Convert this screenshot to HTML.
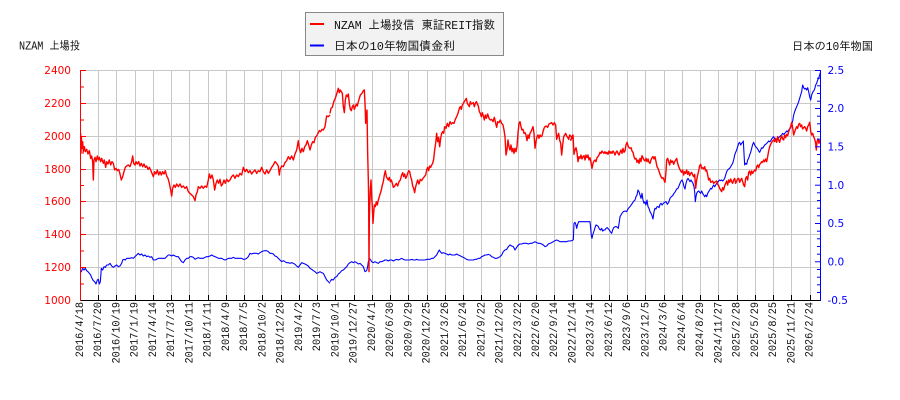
<!DOCTYPE html>
<html><head><meta charset="utf-8"><style>
html,body{margin:0;padding:0;background:#fff;}
svg{display:block;}
.xl{font-family:"Liberation Mono","IPAGothic",monospace;font-size:11px;fill:#111;}
.jp{font-family:"Liberation Mono","IPAGothic","Noto Sans CJK JP",monospace;font-size:12px;fill:#111;}
.yl{font-family:"DejaVu Sans","Liberation Sans",sans-serif;font-size:10.5px;}
</style></head><body>
<svg width="900" height="400" viewBox="0 0 900 400" xmlns="http://www.w3.org/2000/svg">
<defs><clipPath id="pc"><rect x="81" y="68" width="740" height="232"/></clipPath></defs>
<rect width="900" height="400" fill="#fff"/>
<g stroke="#c8c8c8" stroke-width="1">
<line x1="81" x2="820" y1="70.5" y2="70.5"/><line x1="81" x2="820" y1="103.5" y2="103.5"/><line x1="81" x2="820" y1="136.5" y2="136.5"/><line x1="81" x2="820" y1="169.5" y2="169.5"/><line x1="81" x2="820" y1="201.5" y2="201.5"/><line x1="81" x2="820" y1="234.5" y2="234.5"/><line x1="81" x2="820" y1="267.5" y2="267.5"/>
</g>
<g stroke="#c8c8c8" stroke-width="1">
<line x1="98.5" x2="98.5" y1="70" y2="300"/><line x1="116.5" x2="116.5" y1="70" y2="300"/><line x1="135.5" x2="135.5" y1="70" y2="300"/><line x1="153.5" x2="153.5" y1="70" y2="300"/><line x1="171.5" x2="171.5" y1="70" y2="300"/><line x1="189.5" x2="189.5" y1="70" y2="300"/><line x1="208.5" x2="208.5" y1="70" y2="300"/><line x1="226.5" x2="226.5" y1="70" y2="300"/><line x1="244.5" x2="244.5" y1="70" y2="300"/><line x1="262.5" x2="262.5" y1="70" y2="300"/><line x1="281.5" x2="281.5" y1="70" y2="300"/><line x1="299.5" x2="299.5" y1="70" y2="300"/><line x1="317.5" x2="317.5" y1="70" y2="300"/><line x1="335.5" x2="335.5" y1="70" y2="300"/><line x1="354.5" x2="354.5" y1="70" y2="300"/><line x1="372.5" x2="372.5" y1="70" y2="300"/><line x1="390.5" x2="390.5" y1="70" y2="300"/><line x1="408.5" x2="408.5" y1="70" y2="300"/><line x1="427.5" x2="427.5" y1="70" y2="300"/><line x1="445.5" x2="445.5" y1="70" y2="300"/><line x1="463.5" x2="463.5" y1="70" y2="300"/><line x1="481.5" x2="481.5" y1="70" y2="300"/><line x1="500.5" x2="500.5" y1="70" y2="300"/><line x1="518.5" x2="518.5" y1="70" y2="300"/><line x1="536.5" x2="536.5" y1="70" y2="300"/><line x1="554.5" x2="554.5" y1="70" y2="300"/><line x1="572.5" x2="572.5" y1="70" y2="300"/><line x1="591.5" x2="591.5" y1="70" y2="300"/><line x1="609.5" x2="609.5" y1="70" y2="300"/><line x1="627.5" x2="627.5" y1="70" y2="300"/><line x1="645.5" x2="645.5" y1="70" y2="300"/><line x1="664.5" x2="664.5" y1="70" y2="300"/><line x1="682.5" x2="682.5" y1="70" y2="300"/><line x1="700.5" x2="700.5" y1="70" y2="300"/><line x1="718.5" x2="718.5" y1="70" y2="300"/><line x1="737.5" x2="737.5" y1="70" y2="300"/><line x1="755.5" x2="755.5" y1="70" y2="300"/><line x1="773.5" x2="773.5" y1="70" y2="300"/><line x1="791.5" x2="791.5" y1="70" y2="300"/><line x1="810.5" x2="810.5" y1="70" y2="300"/>
</g>

<g clip-path="url(#pc)" fill="none" stroke-linejoin="round">
<g transform="translate(80,80) scale(0.33333)">
<polyline stroke="#0000ff" stroke-width="1.1" vector-effect="non-scaling-stroke" points="0,570 4,575 8,565 12,570 16,565 20,572 24,575 28,580 32,585 36,595 40,602 44,605 48,612 52,600 55,598 58,612 61,605 64,565 68,570 72,560 76,562 80,555 85,555 90,550 95,558 100,562 105,558 110,555 115,560 120,558 125,550 128,540 132,538 136,540 140,535 145,535 150,535 155,533 160,535 165,530 170,525 175,520 180,525 185,522 190,528 195,525 200,530 205,528 210,532 215,530 220,540 225,540 230,538 235,535 240,535 245,535 250,535 255,535 260,530 265,525 270,525 275,528 280,525 285,528 290,530 295,530 300,538 305,545 310,548 315,540 320,535 325,535 330,530 335,530 340,532 345,538 350,535 355,533 360,535 365,535 370,535 375,532 380,530 385,530 390,528 395,525 400,528 405,530 410,532 415,535 420,535 425,535 430,538 435,540 440,538 445,535 450,535 455,535 460,532 465,535 470,535 475,535 480,535 485,535 490,538 495,538 500,535 505,530 510,520 515,522 520,520 525,520 530,520 535,522 540,518 545,515 550,513 555,512 560,512 565,515 570,520 575,520 580,522 585,528 590,530 595,535 600,540 605,545 610,542 615,545 620,548 625,548 630,550 635,548 640,550 645,553 650,558 655,562 660,555 665,548 670,550 675,552 680,555 685,558 690,565 695,568 700,572 705,575 710,580 715,578 720,575 725,578 730,580 735,590 740,600 745,605 750,610"/>
</g>
<g transform="translate(325,80) scale(0.33333)">
<polyline stroke="#0000ff" stroke-width="1.1" vector-effect="non-scaling-stroke" points="15,605 20,598 25,600 30,592 35,590 40,582 45,578 50,572 55,570 60,565 65,560 70,552 75,548 80,545 85,548 90,545 95,548 100,552 105,550 110,555 115,560 120,575 125,572 128,560 130,545 133,535 137,540 140,545 145,548 150,545 155,548 160,550 165,545 170,545 175,543 180,540 185,540 190,543 195,540 200,540 205,543 210,540 215,538 220,540 225,538 230,535 235,538 240,540 245,540 250,540 255,540 260,538 265,540 270,540 275,538 280,540 285,540 290,540 295,540 300,540 305,538 310,538 315,538 320,535 325,535 330,530 335,525 340,515 343,510 346,515 350,520 355,518 360,520 365,522 370,525 375,522 380,525 385,525 390,525 395,522 400,525 405,527 410,530 415,532 420,535 425,538 430,540 435,540 440,540 445,540 450,538 455,538 460,535 465,535 470,530 475,528 480,525 485,525 490,523 495,525 500,530 505,532 510,535 515,535 520,533 525,530 530,525 535,515 540,510 545,508 550,500 555,495 560,498 565,500 570,510 575,502 580,495 585,492 590,492 595,490 600,490 605,490 610,492 615,490 620,490 625,488 630,485 635,488 640,490 645,490 650,492 655,495 660,500 665,498 670,492 675,490 680,488 685,485 690,482 695,480 700,482 705,485 710,485 715,485 720,485 725,485 730,483 735,483 740,482 745,480"/>
</g>
<g transform="translate(570,65) scale(0.33333)">
<polyline stroke="#0000ff" stroke-width="1.1" vector-effect="non-scaling-stroke" points="10,525 12,475 15,472 18,480 20,490 23,478 26,470 30,470 35,470 40,470 45,470 50,470 55,470 60,470 62,490 64,512 66,520 68,510 72,498 75,488 78,480 82,482 85,485 88,492 92,495 95,490 98,498 102,495 105,495 108,490 112,488 115,492 118,495 121,500 125,505 128,495 131,488 135,485 140,485 145,490 148,470 150,455 153,450 156,445 160,440 165,438 170,440 175,430 180,425 185,418 190,410 195,405 198,395 201,390 204,375 207,380 210,390 213,400 216,385 219,405 222,415 225,410 228,420 231,405 234,425 237,430 240,440 243,445 246,452 249,462 252,440 255,430 258,432 261,425 264,425 267,428 270,418 273,415 276,420 280,415 284,412 288,410 292,418 296,412 300,400 304,395 308,392 312,385 316,380 320,372 324,370 328,360 332,350 336,345 339,352 342,365 345,372 348,355 351,345 354,340 357,345 360,350 363,345 366,350 369,355 372,365 374,380 376,410 378,395 380,385 383,380 386,378 389,382 392,385 395,378 398,385 401,390 404,395 407,390 410,395 413,385 416,380 419,375 422,370 425,372 428,365 431,360 434,365 437,360 440,355 443,352 446,348 449,345 452,347 455,345 458,348 461,345 464,340 467,330 470,320 473,315 476,312 479,310 482,305 485,300 488,295 491,285 494,270 497,262 500,255 503,245 506,235 509,232 512,240 515,235 518,232 520,228 522,265 524,300 527,295 530,298 533,285 536,280 539,270 542,262 545,250 548,238 551,232 554,240 557,245 560,248 563,252 566,258 569,262 572,255 575,248 578,250 581,245 584,240 587,238 590,235 593,232 596,228 599,230 602,228 605,222 608,218 611,215 614,222 617,225 620,228 623,220 626,218 629,215 632,212 635,210 638,205 641,208 644,205 647,202 650,198 653,200 656,195 659,192 662,188 665,180 668,168 671,150 674,140 677,132 680,125 683,118 686,110 689,100 692,90 695,80 698,60 701,68 704,72 707,70 710,75 713,68 716,80 719,95 722,105 725,90 728,82 731,78 734,72 737,60 740,55 743,45 746,40 749,30 752,20"/>
</g>

<g transform="translate(80,80) scale(0.33333)">
<polyline stroke="#ff0000" stroke-width="1.4" vector-effect="non-scaling-stroke" points="2,160 3,215 4,170 6,205 8,185 10,215 13,200 16,215 20,208 24,222 28,212 32,235 35,228 38,245 40,300 42,240 45,232 48,245 52,228 55,240 58,232 62,245 65,235 70,250 73,240 77,262 80,245 84,252 88,240 92,255 96,245 100,250 104,270 108,265 112,272 116,268 120,282 124,300 128,290 132,275 136,262 140,258 145,255 150,260 155,245 158,228 161,250 165,255 168,245 172,252 176,245 180,258 184,250 188,260 192,252 196,262 200,258 204,268 208,262 212,270 216,280 220,290 224,275 228,282 232,270 236,285 240,275 244,285 248,275 252,282 256,272 260,288 264,295 268,310 272,330 275,348 278,325 282,315 286,322 290,312 295,320 300,312 305,322 310,318 315,325 320,320 325,335 330,340 335,345 340,350 345,362 348,345 352,335 355,320 360,325 365,318 370,325 375,318 380,322 385,300 388,282 392,295 396,285 400,300 404,330 408,310 412,300 416,310 420,298 424,318 428,312 432,300 436,310 440,298 445,305 450,300 455,290 460,285 465,295 470,285 475,290 480,280 485,285 490,262 495,275 500,268 505,278 510,272 515,282 520,275 525,270 530,280 535,272 540,275 545,262 550,275 555,282 560,270 565,280 570,272 575,262 580,255 585,245 590,250 595,258 598,285 600,270 605,258 610,260 615,248 620,242 625,230 630,238 635,228 640,240 645,222 650,210 655,182 658,205 662,218 666,205 670,215 674,200 678,195 682,182 686,195 690,210 694,195 698,185 702,188 706,172 710,168 714,160 718,152 722,155 726,148 730,150 735,140 738,120 740,108 745,110 750,105"/>
</g>
<g transform="translate(325,80) scale(0.33333)">
<polyline stroke="#ff0000" stroke-width="1.4" vector-effect="non-scaling-stroke" points="15,100 18,85 22,82 25,70 28,60 31,55 34,45 37,35 40,25 43,38 46,30 49,35 52,40 55,80 58,98 61,60 64,45 67,50 70,42 73,70 76,88 79,92 82,80 85,75 88,88 91,80 94,72 97,78 100,65 103,55 106,45 109,42 112,38 115,32 118,30 120,70 122,130 124,100 126,90 128,220 130,300 131,360 132,575 133,420 134,380 136,330 138,300 140,350 142,380 144,430 146,400 148,375 151,380 154,365 157,375 160,360 163,350 166,340 169,330 172,315 175,305 178,285 181,272 184,290 187,295 190,300 193,292 196,305 199,300 202,310 205,322 208,320 211,315 214,310 218,318 222,305 226,300 230,285 233,278 236,290 239,282 242,295 245,290 248,280 251,272 254,275 257,290 260,300 263,318 266,325 269,338 272,320 275,310 278,300 282,312 286,298 290,302 294,295 298,290 302,285 305,270 308,262 311,272 314,258 317,262 320,255 323,250 326,238 329,210 332,190 335,160 338,185 341,172 344,200 347,175 350,160 353,155 356,160 359,140 363,145 367,130 371,140 375,125 379,132 383,128 387,130 391,118 395,110 399,100 403,85 406,80 409,88 412,75 415,70 418,65 421,60 424,55 427,70 430,75 433,80 436,65 439,72 442,70 445,68 448,80 451,70 454,65 457,72 460,78 463,95 466,100 469,110 472,98 475,108 478,120 481,105 484,115 488,102 492,115 496,120 500,118 504,125 508,112 512,130 515,142 518,125 522,128 526,120 530,130 534,135 537,150 540,170 543,225 546,210 549,180 552,200 555,210 558,195 561,215 564,205 567,220 570,205 573,215 576,200 579,160 582,130 585,125 588,140 591,150 594,148 597,160 600,158 603,165 606,182 609,165 612,175 615,160 618,155 621,148 624,140 627,160 630,205 633,185 636,170 639,165 642,175 645,165 648,170 651,168 654,155 657,145 660,140 664,138 668,142 672,132 676,130 680,128 684,135 688,128 692,135 695,178 698,168 701,160 704,180 707,190 710,225 713,195 716,170 719,165 722,160 725,168 728,172 731,178 734,165 737,168 741,175 745,170"/>
</g>
<g transform="translate(570,65) scale(0.33333)">
<polyline stroke="#ff0000" stroke-width="1.4" vector-effect="non-scaling-stroke" points="0,225 3,225 6,215 9,210 12,268 15,255 18,248 21,262 24,290 27,275 30,280 33,270 36,282 39,275 42,272 45,285 48,270 51,278 54,270 57,285 60,278 63,292 66,310 69,295 72,288 75,285 78,290 81,278 84,275 87,270 90,262 93,265 96,258 99,262 102,265 105,260 108,266 111,262 114,268 117,258 120,265 123,260 126,265 129,258 132,262 135,270 138,262 141,258 144,265 147,270 150,262 153,255 156,265 159,250 162,262 165,258 168,240 171,232 174,242 177,248 180,250 183,248 186,258 189,262 192,275 195,282 198,280 201,292 204,285 207,295 210,280 213,290 216,272 219,278 222,285 225,288 228,280 231,290 234,282 237,292 240,295 243,285 246,278 249,275 252,282 255,275 258,290 261,305 264,310 267,318 270,328 273,335 276,340 279,338 282,345 285,352 288,320 290,285 293,280 296,290 299,300 302,285 305,292 308,288 311,298 314,290 317,285 320,280 323,295 326,305 329,312 332,318 335,322 338,315 341,330 344,320 347,325 350,315 353,328 356,320 359,332 362,325 365,322 368,330 371,335 374,328 377,370 380,345 383,330 386,318 389,302 392,298 395,310 398,308 401,312 404,305 407,318 410,315 413,330 416,345 419,340 422,352 425,350 428,348 431,355 434,352 437,350 440,348 443,358 446,362 449,370 452,375 455,380 458,368 461,375 464,362 467,355 470,348 473,360 476,345 479,352 482,342 485,350 488,355 491,345 494,340 497,355 500,348 503,342 506,340 509,352 512,345 515,340 518,350 521,360 524,365 527,340 530,335 533,345 536,322 539,318 542,330 545,318 548,325 551,320 554,315 557,318 560,305 563,300 566,308 569,298 572,295 575,290 578,292 581,285 584,290 587,282 590,290 593,275 596,258 599,245 602,238 605,232 608,228 611,225 614,230 617,220 620,232 623,215 626,225 629,232 632,220 635,212 638,222 641,225 644,210 647,218 650,208 653,212 656,200 659,192 662,185 665,172 668,188 671,210 674,200 677,192 680,185 683,190 686,178 689,175 692,185 695,180 698,192 701,188 704,185 707,190 710,198 713,185 716,180 719,172 722,198 725,210 728,205 731,215 734,222 737,235 739,255 741,230 744,222 747,235 750,225"/>
</g>
</g>

<line x1="80" x2="821" y1="300.5" y2="300.5" stroke="#000" stroke-width="1"/>
<g stroke="#000" stroke-width="1">
<line x1="98.5" x2="98.5" y1="295" y2="300"/><line x1="116.5" x2="116.5" y1="295" y2="300"/><line x1="135.5" x2="135.5" y1="295" y2="300"/><line x1="153.5" x2="153.5" y1="295" y2="300"/><line x1="171.5" x2="171.5" y1="295" y2="300"/><line x1="189.5" x2="189.5" y1="295" y2="300"/><line x1="208.5" x2="208.5" y1="295" y2="300"/><line x1="226.5" x2="226.5" y1="295" y2="300"/><line x1="244.5" x2="244.5" y1="295" y2="300"/><line x1="262.5" x2="262.5" y1="295" y2="300"/><line x1="281.5" x2="281.5" y1="295" y2="300"/><line x1="299.5" x2="299.5" y1="295" y2="300"/><line x1="317.5" x2="317.5" y1="295" y2="300"/><line x1="335.5" x2="335.5" y1="295" y2="300"/><line x1="354.5" x2="354.5" y1="295" y2="300"/><line x1="372.5" x2="372.5" y1="295" y2="300"/><line x1="390.5" x2="390.5" y1="295" y2="300"/><line x1="408.5" x2="408.5" y1="295" y2="300"/><line x1="427.5" x2="427.5" y1="295" y2="300"/><line x1="445.5" x2="445.5" y1="295" y2="300"/><line x1="463.5" x2="463.5" y1="295" y2="300"/><line x1="481.5" x2="481.5" y1="295" y2="300"/><line x1="500.5" x2="500.5" y1="295" y2="300"/><line x1="518.5" x2="518.5" y1="295" y2="300"/><line x1="536.5" x2="536.5" y1="295" y2="300"/><line x1="554.5" x2="554.5" y1="295" y2="300"/><line x1="572.5" x2="572.5" y1="295" y2="300"/><line x1="591.5" x2="591.5" y1="295" y2="300"/><line x1="609.5" x2="609.5" y1="295" y2="300"/><line x1="627.5" x2="627.5" y1="295" y2="300"/><line x1="645.5" x2="645.5" y1="295" y2="300"/><line x1="664.5" x2="664.5" y1="295" y2="300"/><line x1="682.5" x2="682.5" y1="295" y2="300"/><line x1="700.5" x2="700.5" y1="295" y2="300"/><line x1="718.5" x2="718.5" y1="295" y2="300"/><line x1="737.5" x2="737.5" y1="295" y2="300"/><line x1="755.5" x2="755.5" y1="295" y2="300"/><line x1="773.5" x2="773.5" y1="295" y2="300"/><line x1="791.5" x2="791.5" y1="295" y2="300"/><line x1="810.5" x2="810.5" y1="295" y2="300"/>
</g>
<g stroke="#ff0000" stroke-width="1">
<line x1="80.5" x2="80.5" y1="70" y2="301"/>
<line x1="80" x2="86" y1="70.5" y2="70.5"/><line x1="80" x2="84" y1="87" y2="87"/>
<line x1="80" x2="86" y1="103.5" y2="103.5"/><line x1="80" x2="84" y1="120" y2="120"/>
<line x1="80" x2="86" y1="136.5" y2="136.5"/><line x1="80" x2="84" y1="153" y2="153"/>
<line x1="80" x2="86" y1="169.5" y2="169.5"/><line x1="80" x2="84" y1="185.5" y2="185.5"/>
<line x1="80" x2="86" y1="201.5" y2="201.5"/><line x1="80" x2="84" y1="218" y2="218"/>
<line x1="80" x2="86" y1="234.5" y2="234.5"/><line x1="80" x2="84" y1="251" y2="251"/>
<line x1="80" x2="86" y1="267.5" y2="267.5"/><line x1="80" x2="84" y1="284" y2="284"/>
</g>
<g class="yl" fill="#ff0000" text-anchor="end">
<text x="71" y="74">2400</text><text x="71" y="107">2200</text><text x="71" y="140">2000</text><text x="71" y="173">1800</text><text x="71" y="205">1600</text><text x="71" y="238">1400</text><text x="71" y="271">1200</text><text x="71" y="304">1000</text>
</g>
<g stroke="#0000ff" stroke-width="1">
<line x1="820.5" x2="820.5" y1="70" y2="301"/>
<line x1="815" x2="821" y1="70.5" y2="70.5"/><line x1="817" x2="821" y1="78.2" y2="78.2"/><line x1="817" x2="821" y1="85.8" y2="85.8"/><line x1="817" x2="821" y1="93.5" y2="93.5"/><line x1="817" x2="821" y1="101.2" y2="101.2"/>
<line x1="815" x2="821" y1="108.5" y2="108.5"/><line x1="817" x2="821" y1="116.2" y2="116.2"/><line x1="817" x2="821" y1="123.8" y2="123.8"/><line x1="817" x2="821" y1="131.5" y2="131.5"/><line x1="817" x2="821" y1="139.2" y2="139.2"/>
<line x1="815" x2="821" y1="146.8" y2="146.8"/><line x1="817" x2="821" y1="154.5" y2="154.5"/><line x1="817" x2="821" y1="162.2" y2="162.2"/><line x1="817" x2="821" y1="169.8" y2="169.8"/><line x1="817" x2="821" y1="177.5" y2="177.5"/>
<line x1="815" x2="821" y1="185.2" y2="185.2"/><line x1="817" x2="821" y1="192.8" y2="192.8"/><line x1="817" x2="821" y1="200.5" y2="200.5"/><line x1="817" x2="821" y1="208.2" y2="208.2"/><line x1="817" x2="821" y1="215.8" y2="215.8"/>
<line x1="815" x2="821" y1="223.5" y2="223.5"/><line x1="817" x2="821" y1="231.2" y2="231.2"/><line x1="817" x2="821" y1="238.8" y2="238.8"/><line x1="817" x2="821" y1="246.5" y2="246.5"/><line x1="817" x2="821" y1="254.2" y2="254.2"/>
<line x1="815" x2="821" y1="261.8" y2="261.8"/><line x1="817" x2="821" y1="269.5" y2="269.5"/><line x1="817" x2="821" y1="277.2" y2="277.2"/><line x1="817" x2="821" y1="284.8" y2="284.8"/><line x1="817" x2="821" y1="292.5" y2="292.5"/>
</g>
<g class="yl" fill="#0000ff" text-anchor="start">
<text x="827.5" y="74">2.5</text><text x="827.5" y="112">2.0</text><text x="827.5" y="150.5">1.5</text><text x="827.5" y="189">1.0</text><text x="827.5" y="227">0.5</text><text x="827.5" y="265.5">0.0</text><text x="827.5" y="304">-0.5</text>
</g>

<g class="xl" text-anchor="end">
<text transform="translate(83,302) rotate(-90)" textLength="55.3" lengthAdjust="spacingAndGlyphs">2016/4/18</text>
<text transform="translate(101.2,302) rotate(-90)" textLength="55.3" lengthAdjust="spacingAndGlyphs">2016/7/20</text>
<text transform="translate(119.5,302) rotate(-90)" textLength="61.5" lengthAdjust="spacingAndGlyphs">2016/10/19</text>
<text transform="translate(137.7,302) rotate(-90)" textLength="55.3" lengthAdjust="spacingAndGlyphs">2017/1/19</text>
<text transform="translate(156,302) rotate(-90)" textLength="55.3" lengthAdjust="spacingAndGlyphs">2017/4/14</text>
<text transform="translate(174.2,302) rotate(-90)" textLength="55.3" lengthAdjust="spacingAndGlyphs">2017/7/13</text>
<text transform="translate(192.4,302) rotate(-90)" textLength="61.5" lengthAdjust="spacingAndGlyphs">2017/10/11</text>
<text transform="translate(210.7,302) rotate(-90)" textLength="55.3" lengthAdjust="spacingAndGlyphs">2018/1/11</text>
<text transform="translate(228.9,302) rotate(-90)" textLength="49.2" lengthAdjust="spacingAndGlyphs">2018/4/9</text>
<text transform="translate(247.2,302) rotate(-90)" textLength="49.2" lengthAdjust="spacingAndGlyphs">2018/7/5</text>
<text transform="translate(265.4,302) rotate(-90)" textLength="55.3" lengthAdjust="spacingAndGlyphs">2018/10/2</text>
<text transform="translate(283.6,302) rotate(-90)" textLength="61.5" lengthAdjust="spacingAndGlyphs">2018/12/28</text>
<text transform="translate(301.9,302) rotate(-90)" textLength="49.2" lengthAdjust="spacingAndGlyphs">2019/4/2</text>
<text transform="translate(320.1,302) rotate(-90)" textLength="49.2" lengthAdjust="spacingAndGlyphs">2019/7/3</text>
<text transform="translate(338.4,302) rotate(-90)" textLength="55.3" lengthAdjust="spacingAndGlyphs">2019/10/1</text>
<text transform="translate(356.6,302) rotate(-90)" textLength="61.5" lengthAdjust="spacingAndGlyphs">2019/12/27</text>
<text transform="translate(374.8,302) rotate(-90)" textLength="49.2" lengthAdjust="spacingAndGlyphs">2020/4/1</text>
<text transform="translate(393.1,302) rotate(-90)" textLength="55.3" lengthAdjust="spacingAndGlyphs">2020/6/30</text>
<text transform="translate(411.3,302) rotate(-90)" textLength="55.3" lengthAdjust="spacingAndGlyphs">2020/9/29</text>
<text transform="translate(429.6,302) rotate(-90)" textLength="61.5" lengthAdjust="spacingAndGlyphs">2020/12/25</text>
<text transform="translate(447.8,302) rotate(-90)" textLength="55.3" lengthAdjust="spacingAndGlyphs">2021/3/26</text>
<text transform="translate(466,302) rotate(-90)" textLength="55.3" lengthAdjust="spacingAndGlyphs">2021/6/24</text>
<text transform="translate(484.3,302) rotate(-90)" textLength="55.3" lengthAdjust="spacingAndGlyphs">2021/9/22</text>
<text transform="translate(502.5,302) rotate(-90)" textLength="61.5" lengthAdjust="spacingAndGlyphs">2021/12/20</text>
<text transform="translate(520.8,302) rotate(-90)" textLength="55.3" lengthAdjust="spacingAndGlyphs">2022/3/22</text>
<text transform="translate(539,302) rotate(-90)" textLength="55.3" lengthAdjust="spacingAndGlyphs">2022/6/20</text>
<text transform="translate(557.2,302) rotate(-90)" textLength="55.3" lengthAdjust="spacingAndGlyphs">2022/9/14</text>
<text transform="translate(575.5,302) rotate(-90)" textLength="61.5" lengthAdjust="spacingAndGlyphs">2022/12/14</text>
<text transform="translate(593.7,302) rotate(-90)" textLength="55.3" lengthAdjust="spacingAndGlyphs">2023/3/14</text>
<text transform="translate(612,302) rotate(-90)" textLength="55.3" lengthAdjust="spacingAndGlyphs">2023/6/12</text>
<text transform="translate(630.2,302) rotate(-90)" textLength="49.2" lengthAdjust="spacingAndGlyphs">2023/9/6</text>
<text transform="translate(648.4,302) rotate(-90)" textLength="55.3" lengthAdjust="spacingAndGlyphs">2023/12/5</text>
<text transform="translate(666.7,302) rotate(-90)" textLength="49.2" lengthAdjust="spacingAndGlyphs">2024/3/6</text>
<text transform="translate(684.9,302) rotate(-90)" textLength="49.2" lengthAdjust="spacingAndGlyphs">2024/6/4</text>
<text transform="translate(703.2,302) rotate(-90)" textLength="55.3" lengthAdjust="spacingAndGlyphs">2024/8/29</text>
<text transform="translate(721.4,302) rotate(-90)" textLength="61.5" lengthAdjust="spacingAndGlyphs">2024/11/27</text>
<text transform="translate(739.6,302) rotate(-90)" textLength="55.3" lengthAdjust="spacingAndGlyphs">2025/2/28</text>
<text transform="translate(757.9,302) rotate(-90)" textLength="55.3" lengthAdjust="spacingAndGlyphs">2025/5/29</text>
<text transform="translate(776.1,302) rotate(-90)" textLength="55.3" lengthAdjust="spacingAndGlyphs">2025/8/25</text>
<text transform="translate(794.4,302) rotate(-90)" textLength="61.5" lengthAdjust="spacingAndGlyphs">2025/11/21</text>
<text transform="translate(812.6,302) rotate(-90)" textLength="55.3" lengthAdjust="spacingAndGlyphs">2026/2/24</text>
</g>

<text class="jp" x="19" y="49.5" textLength="61" lengthAdjust="spacingAndGlyphs" style="font-size:11.5px">NZAM 上場投</text>
<text class="jp" x="792" y="50" textLength="81" lengthAdjust="spacingAndGlyphs" style="font-size:11.5px">日本の10年物国</text>

<rect x="305.5" y="12.5" width="198" height="43" fill="#f2f2f2" stroke="#888" stroke-width="1"/>
<line x1="310" x2="324" y1="24" y2="24" stroke="#ff0000" stroke-width="2"/>
<line x1="310" x2="324" y1="45.5" y2="45.5" stroke="#0000ff" stroke-width="2"/>
<text class="jp" x="334" y="29" textLength="161" lengthAdjust="spacingAndGlyphs">NZAM 上場投信 東証REIT指数</text>
<text class="jp" x="334" y="50" textLength="121" lengthAdjust="spacingAndGlyphs">日本の10年物国債金利</text>
</svg>
</body></html>
